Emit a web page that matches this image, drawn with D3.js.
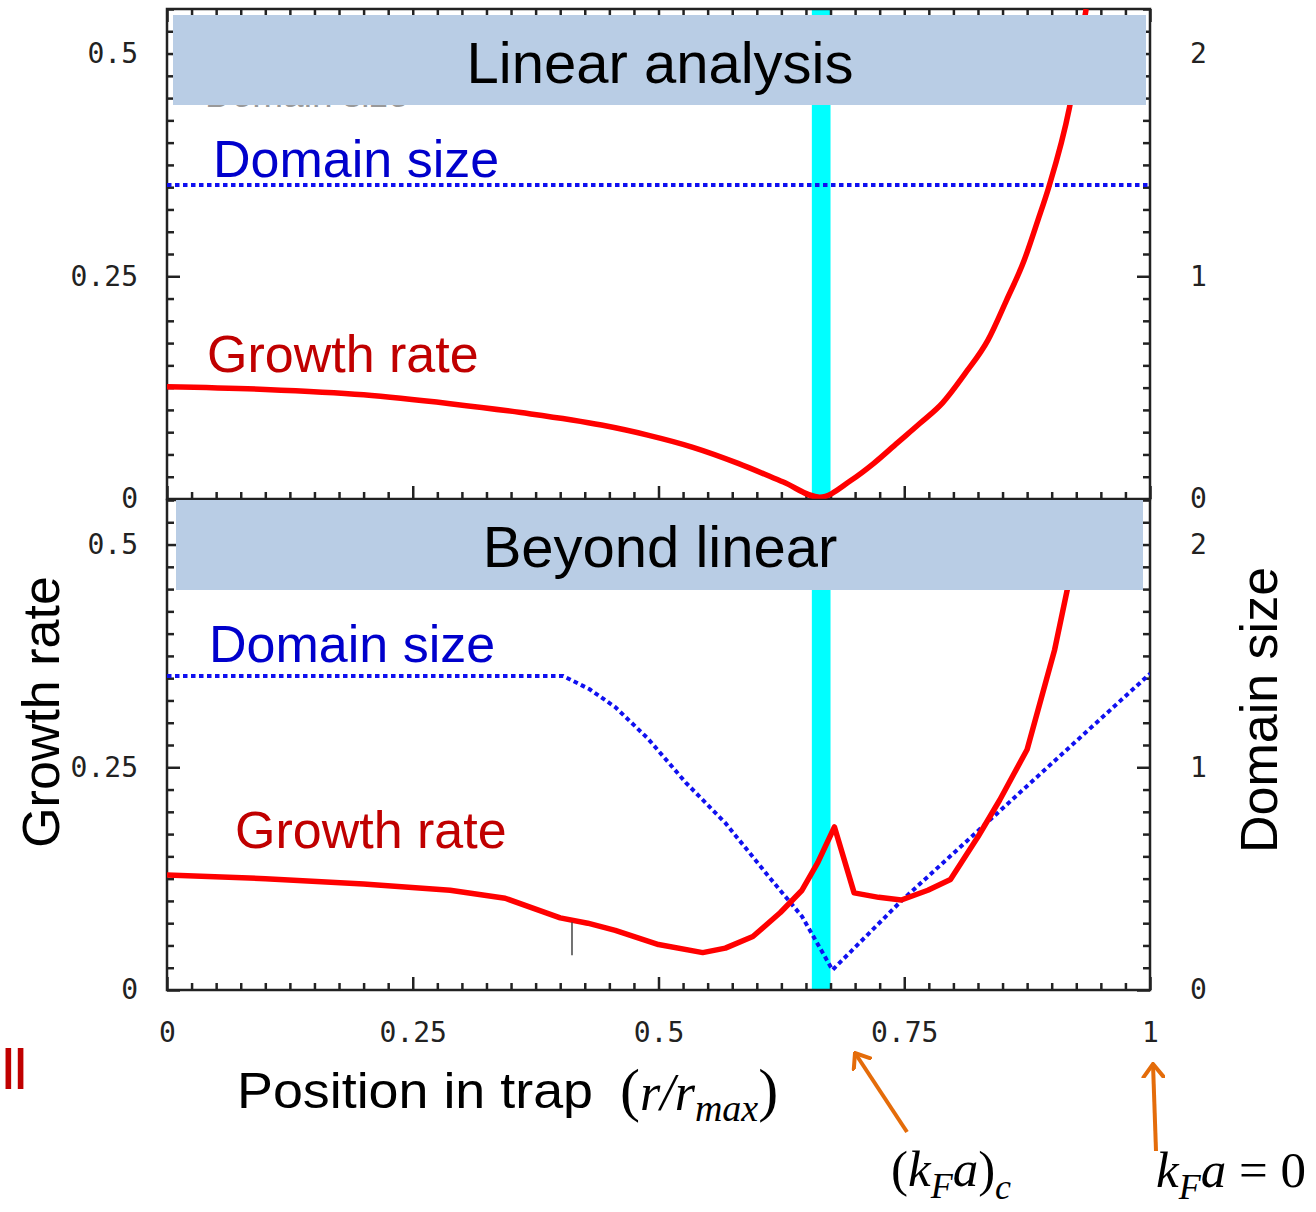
<!DOCTYPE html>
<html>
<head>
<meta charset="utf-8">
<script src="https://cdn.jsdelivr.net/npm/d3@7"></script>
<style>
  html, body { margin: 0; padding: 0; background: #fff; }
  svg { display: block; }
  .tick text { font-family: 'DejaVu Sans Mono', monospace; font-size: 28px; fill: #222; }
  .tick line { stroke: #222; stroke-width: 2.5; }
  .sans { font-family: 'Liberation Sans', Arial, sans-serif; }
  .serif { font-family: 'Liberation Serif', 'Times New Roman', serif; }
</style>
</head>
<body>
<div id="chart"></div>
<script>
// ---- data ----
const xTicks = [0, 0.25, 0.5, 0.75, 1];
const xTickLabels = ['0', '0.25', '0.5', '0.75', '1'];
const growthTicks = [0, 0.25, 0.5];
const growthTickLabels = ['0', '0.25', '0.5'];
const domainTicks = [0, 1, 2];
const domainTickLabels = ['0', '1', '2'];

// critical region (cyan band), in r / r_max
const criticalBand = [0.656, 0.675];

// panel 1 : linear analysis
const linearGrowthX = [0, 0.1, 0.2, 0.288, 0.36, 0.442, 0.488, 0.535, 0.581, 0.627, 0.664,
  0.696, 0.719, 0.743, 0.766, 0.789, 0.812, 0.835, 0.854, 0.872, 0.886, 0.897, 0.918, 0.935];
const linearGrowth = [0.126, 0.123, 0.117, 0.107, 0.097, 0.083, 0.072, 0.058, 0.040, 0.019, 0.002,
  0.021, 0.040, 0.063, 0.085, 0.108, 0.141, 0.178, 0.223, 0.268, 0.313, 0.350, 0.439, 0.55];
const linearDomainX = [0, 1];
const linearDomain = [1.41, 1.41];

// panel 2 : beyond linear
const beyondGrowthX = [0, 0.1, 0.2, 0.288, 0.344, 0.4, 0.428, 0.456, 0.5, 0.545, 0.568, 0.596,
  0.624, 0.646, 0.662, 0.679, 0.699, 0.724, 0.747, 0.774, 0.797, 0.825, 0.847, 0.875, 0.903, 0.935];
const beyondGrowth = [0.129, 0.125, 0.119, 0.112, 0.103, 0.081, 0.075, 0.067, 0.051, 0.042, 0.047, 0.060,
  0.087, 0.112, 0.143, 0.183, 0.109, 0.104, 0.101, 0.112, 0.124, 0.172, 0.213, 0.270, 0.382, 0.55];
const beyondDomainX = [0, 0.403, 0.43, 0.456, 0.489, 0.528, 0.568, 0.612, 0.646, 0.677, 0.747, 1];
const beyondDomain = [1.41, 1.41, 1.35, 1.27, 1.13, 0.93, 0.75, 0.51, 0.33, 0.09, 0.40, 1.42];

// small stray stroke in the lower panel: [x, from, to]
const strayMark = [0.412, 0.039, 0.076];

// ---- layout ----
const width = 1316;
const height = 1212;
const left = 167;
const right = 1150;
const majorTick = 13;
const minorTick = 7;

const svg = d3.select('#chart')
  .append('svg')
    .attr('width', width)
    .attr('height', height);

const x = d3.scaleLinear().domain([0, 1]).range([left, right]);

const panels = [
  {
    id: 'linear', top: 9, bottom: 499, topTicks: true, xLabels: false,
    title: 'Linear analysis', box: [173, 15, 1146, 105], titleY: 83,
    growthX: linearGrowthX, growth: linearGrowth, curve: d3.curveMonotoneX,
    domainX: linearDomainX, domain: linearDomain,
    domainLabel: [213, 177], growthLabel: [207, 372]
  },
  {
    id: 'beyond', top: 500, bottom: 990, topTicks: false, xLabels: true,
    title: 'Beyond linear', box: [176, 500, 1143, 590], titleY: 567,
    growthX: beyondGrowthX, growth: beyondGrowth, curve: d3.curveLinear,
    domainX: beyondDomainX, domain: beyondDomain,
    domainLabel: [209, 662], growthLabel: [235, 848]
  }
];

const defs = svg.append('defs');

panels.forEach(p => {
  const y = d3.scaleLinear().domain([0, 0.55]).range([p.bottom, p.top]);
  const yR = d3.scaleLinear().domain([0, 2.2]).range([p.bottom, p.top]);
  const g = svg.append('g').attr('class', 'panel panel--' + p.id);

  defs.append('clipPath')
      .attr('id', 'clip-' + p.id)
    .append('rect')
      .attr('x', left)
      .attr('y', p.top)
      .attr('width', right - left)
      .attr('height', p.bottom - p.top);

  // ghost text peeking under the top banner
  if (p.id === 'linear') {
    g.append('text')
        .attr('class', 'sans')
        .attr('x', 205)
        .attr('y', 107)
        .attr('font-size', 37)
        .attr('fill', '#999')
        .text('Domain size');
  }

  // cyan band
  g.append('rect')
      .attr('x', x(criticalBand[0]))
      .attr('y', p.top + 1)
      .attr('width', x(criticalBand[1]) - x(criticalBand[0]))
      .attr('height', p.bottom - p.top - 1)
      .attr('fill', '#00ffff');

  // minor ticks
  const minorX = d3.range(0, 1.0001, 0.025).filter(v => !xTicks.some(t => Math.abs(t - v) < 1e-6));
  const minorY = d3.range(0, 0.5501, 0.025).filter(v => !growthTicks.some(t => Math.abs(t - v) < 1e-6));
  const minorYR = minorY.map(v => v * 4);

  const axes = [
    { axis: d3.axisBottom(x).tickValues(minorX).tickSize(-minorTick).tickFormat(''), at: `translate(0,${p.bottom})` },
    { axis: d3.axisBottom(x).tickValues(xTicks).tickSize(-majorTick).tickPadding(32)
        .tickFormat((d, i) => p.xLabels ? xTickLabels[i] : ''), at: `translate(0,${p.bottom})` },
    { axis: d3.axisLeft(y).tickValues(minorY).tickSize(-minorTick).tickFormat(''), at: `translate(${left},0)` },
    { axis: d3.axisLeft(y).tickValues(growthTicks).tickSize(-majorTick).tickPadding(29)
        .tickFormat((d, i) => growthTickLabels[i]), at: `translate(${left},0)` },
    { axis: d3.axisRight(yR).tickValues(minorYR).tickSize(-minorTick).tickFormat(''), at: `translate(${right},0)` },
    { axis: d3.axisRight(yR).tickValues(domainTicks).tickSize(-majorTick).tickPadding(40)
        .tickFormat((d, i) => domainTickLabels[i]), at: `translate(${right},0)` }
  ];
  if (p.topTicks) {
    axes.push({ axis: d3.axisTop(x).tickValues(minorX).tickSize(-minorTick).tickFormat(''), at: `translate(0,${p.top})` });
    axes.push({ axis: d3.axisTop(x).tickValues(xTicks).tickSize(-majorTick).tickFormat(''), at: `translate(0,${p.top})` });
  }

  axes.forEach(a => {
    g.append('g')
        .attr('transform', a.at)
        .call(a.axis)
      .call(s => s.select('.domain').remove());
  });

  // frame
  g.append('rect')
      .attr('x', left)
      .attr('y', p.top)
      .attr('width', right - left)
      .attr('height', p.bottom - p.top)
      .attr('fill', 'none')
      .attr('stroke', '#222')
      .attr('stroke-width', 2.5);

  const plot = g.append('g').attr('clip-path', `url(#clip-${p.id})`);

  // domain size (dotted blue)
  plot.append('path')
      .datum(p.domainX.map((v, i) => [v, p.domain[i]]))
      .attr('fill', 'none')
      .attr('stroke', '#1010f0')
      .attr('stroke-width', 4)
      .attr('stroke-dasharray', '4.5,3.5')
      .attr('d', d3.line().x(d => x(d[0])).y(d => yR(d[1])));

  // growth rate (red)
  plot.append('path')
      .datum(p.growthX.map((v, i) => [v, p.growth[i]]))
      .attr('fill', 'none')
      .attr('stroke', '#ff0000')
      .attr('stroke-width', 5.5)
      .attr('stroke-linejoin', 'round')
      .attr('d', d3.line().curve(p.curve).x(d => x(d[0])).y(d => y(d[1])));

  if (p.id === 'beyond') {
    plot.append('line')
        .attr('x1', x(strayMark[0]))
        .attr('x2', x(strayMark[0]))
        .attr('y1', y(strayMark[2]))
        .attr('y2', y(strayMark[1]))
        .attr('stroke', '#444')
        .attr('stroke-width', 1.5);
  }

  // banner
  const [bx0, by0, bx1, by1] = p.box;
  g.append('rect')
      .attr('x', bx0)
      .attr('y', by0)
      .attr('width', bx1 - bx0)
      .attr('height', by1 - by0)
      .attr('fill', '#b9cde5');

  g.append('text')
      .attr('class', 'sans')
      .attr('x', 660)
      .attr('y', p.titleY)
      .attr('text-anchor', 'middle')
      .attr('font-size', 58)
      .attr('fill', '#000')
      .text(p.title);

  // in-plot labels
  g.append('text')
      .attr('class', 'sans')
      .attr('x', p.domainLabel[0])
      .attr('y', p.domainLabel[1])
      .attr('font-size', 52)
      .attr('fill', '#0000cc')
      .text('Domain size');

  g.append('text')
      .attr('class', 'sans')
      .attr('x', p.growthLabel[0])
      .attr('y', p.growthLabel[1])
      .attr('font-size', 52)
      .attr('fill', '#c00000')
      .text('Growth rate');
});

// axis titles
svg.append('text')
    .attr('class', 'sans')
    .attr('transform', 'translate(59,712) rotate(-90)')
    .attr('text-anchor', 'middle')
    .attr('font-size', 52)
    .text('Growth rate');

svg.append('text')
    .attr('class', 'sans')
    .attr('transform', 'translate(1277,710) rotate(-90)')
    .attr('text-anchor', 'middle')
    .attr('font-size', 52)
    .text('Domain size');

svg.append('text')
    .attr('class', 'sans')
    .attr('x', 237)
    .attr('y', 1108)
    .attr('font-size', 50)
    .attr('textLength', 356)
    .attr('lengthAdjust', 'spacingAndGlyphs')
    .text('Position in trap');

const pos = svg.append('text')
    .attr('class', 'serif')
    .attr('x', 620)
    .attr('y', 1110)
    .attr('font-size', 52);
pos.append('tspan').attr('font-size', 60).text('(');
pos.append('tspan').attr('font-style', 'italic').text('r/r');
pos.append('tspan').attr('font-style', 'italic').attr('font-size', 38).attr('dy', 11).text('max');
pos.append('tspan').attr('font-size', 60).attr('dy', -11).text(')');

// red "II" at the left edge
svg.append('text')
    .attr('class', 'sans')
    .attr('x', 0)
    .attr('y', 1089)
    .attr('font-size', 60)
    .attr('letter-spacing', -4.5)
    .attr('fill', '#c00000')
    .text('II');

// annotations with orange arrows
defs.append('marker')
    .attr('id', 'chevron')
    .attr('viewBox', '-14 -12 16 24')
    .attr('refX', 0)
    .attr('refY', 0)
    .attr('markerWidth', 16)
    .attr('markerHeight', 24)
    .attr('markerUnits', 'userSpaceOnUse')
    .attr('orient', 'auto')
  .append('path')
    .attr('d', 'M-13,-10 L0,0 L-13,10')
    .attr('fill', 'none')
    .attr('stroke', '#e46c0a')
    .attr('stroke-width', 4)
    .attr('stroke-linecap', 'round');

const arrows = [
  [907, 1132, 855, 1053],
  [1156, 1151, 1153, 1064]
];
svg.selectAll('.arrow')
  .data(arrows)
  .enter()
  .append('line')
    .attr('class', 'arrow')
    .attr('x1', d => d[0])
    .attr('y1', d => d[1])
    .attr('x2', d => d[2])
    .attr('y2', d => d[3])
    .attr('stroke', '#e46c0a')
    .attr('stroke-width', 4)
    .attr('marker-end', 'url(#chevron)');

const kc = svg.append('text')
    .attr('class', 'serif')
    .attr('x', 891)
    .attr('y', 1186)
    .attr('font-size', 51);
kc.append('tspan').text('(');
kc.append('tspan').attr('font-style', 'italic').text('k');
kc.append('tspan').attr('font-style', 'italic').attr('font-size', 36).attr('dy', 12).text('F');
kc.append('tspan').attr('font-style', 'italic').attr('dy', -12).text('a');
kc.append('tspan').text(')');
kc.append('tspan').attr('font-style', 'italic').attr('font-size', 36).attr('dy', 13).text('c');

const k0 = svg.append('text')
    .attr('class', 'serif')
    .attr('x', 1156)
    .attr('y', 1187)
    .attr('font-size', 51);
k0.append('tspan').attr('font-style', 'italic').text('k');
k0.append('tspan').attr('font-style', 'italic').attr('font-size', 36).attr('dy', 12).text('F');
k0.append('tspan').attr('font-style', 'italic').attr('dy', -12).text('a');
k0.append('tspan').text(' = 0');
</script>
</body>
</html>
